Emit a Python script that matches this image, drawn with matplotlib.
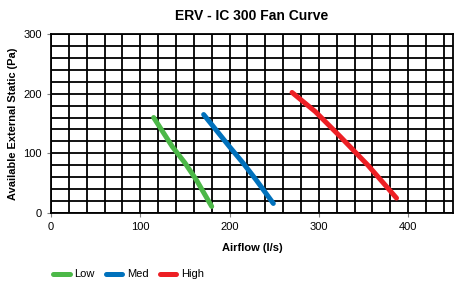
import matplotlib
matplotlib.use("Agg")
import matplotlib.pyplot as plt
import numpy as np

plt.rcParams['font.family'] = ['Liberation Sans', 'DejaVu Sans']

# fan curves (airflow l/s, static Pa)
low_flow = [115, 136, 150, 163, 180]
low_static = [160, 111, 84, 55, 11]
med_flow = [171, 200, 215, 230, 249]
med_static = [165, 111, 84, 55, 16]
high_flow = [270, 296, 324, 355, 387]
high_static = [202, 170, 128, 80, 25]

series = [
    ('Low', low_flow, low_static, '#4cb848'),
    ('Med', med_flow, med_static, '#0071bc'),
    ('High', high_flow, high_static, '#ed1f24'),
]

fig = plt.figure(figsize=(4.54, 2.81), dpi=100)
ax = fig.add_axes([0.1123, 0.242, 0.885, 0.637])

for name, x, y, c in series:
    ax.plot(x, y, color=c, lw=3.6, solid_capstyle='round', label=name, zorder=3)

ax.set_xlim(0, 450)
ax.set_ylim(0, 300)
ax.set_xticks(np.arange(0, 401, 100))
ax.set_yticks(np.arange(0, 301, 100))
ax.set_xticks(np.arange(0, 451, 20), minor=True)
ax.set_yticks(np.arange(0, 301, 20), minor=True)
ax.grid(which='both', color='black', lw=1.3)
ax.tick_params(which='minor', length=0)
ax.tick_params(which='major', length=3, labelsize=8, color='#808080')
for s in ax.spines.values():
    s.set_linewidth(1.3)

ax.set_title('ERV - IC 300 Fan Curve', fontsize=10, fontweight='bold', pad=10)
ax.set_xlabel('Airflow (l/s)', fontsize=8, fontweight='bold', labelpad=8)
ax.set_ylabel('Available External Static (Pa)', fontsize=7.9, fontweight='bold')

fig.legend(loc='lower left', bbox_to_anchor=(0.095, -0.03), ncol=3, frameon=False,
           fontsize=8, handlelength=1.5, columnspacing=1.0, handletextpad=0.4)

fig.savefig('out.png', dpi=100)
